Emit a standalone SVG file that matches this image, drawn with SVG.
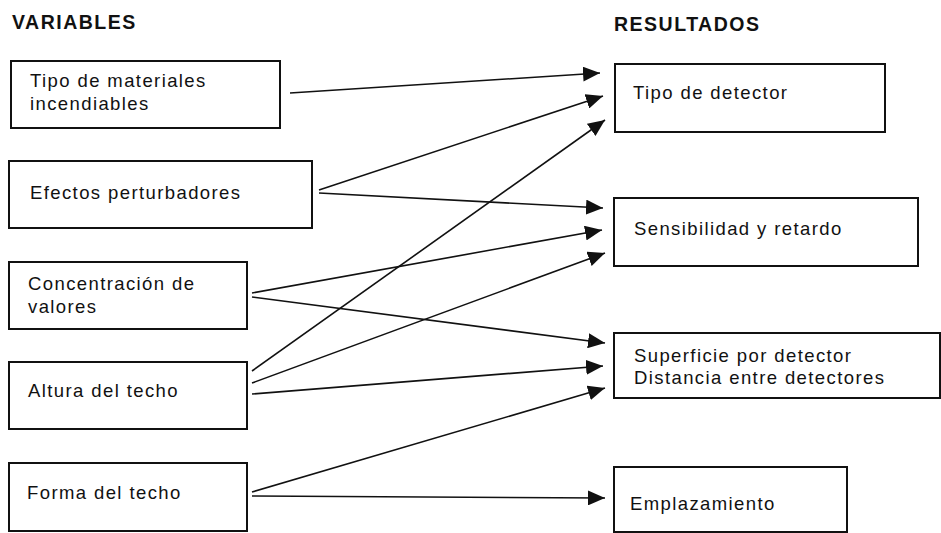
<svg xmlns="http://www.w3.org/2000/svg" width="941" height="533" viewBox="0 0 941 533">
<style>
.box{fill:#fff;stroke:#111;stroke-width:2}
.t{font-family:"Liberation Sans",Arial,sans-serif;font-size:18.5px;letter-spacing:1.4px;fill:#111}
.h{font-family:"Liberation Sans",Arial,sans-serif;font-size:19.5px;font-weight:bold;letter-spacing:1.5px;fill:#111}
.c line{stroke:#111;stroke-width:1.6;fill:none;marker-end:url(#ah)}
</style>
<defs>
<marker id="ah" markerUnits="userSpaceOnUse" markerWidth="18" markerHeight="15" refX="17" refY="7.5" orient="auto">
<path d="M0,0 L17,7.5 L0,15 z" fill="#111"/>
</marker>
</defs>
<rect width="941" height="533" fill="#fff"/>
<text class="h" x="12" y="29">VARIABLES</text>
<text class="h" x="614" y="31">RESULTADOS</text>

<g id="n-materiales">
<rect class="box" x="11" y="61" width="269" height="67"/>
<text class="t" x="30" y="87">Tipo de materiales</text>
<text class="t" x="30" y="110">incendiables</text>
</g>
<g id="n-efectos">
<rect class="box" x="9" y="161" width="303" height="67"/>
<text class="t" x="30" y="199">Efectos perturbadores</text>
</g>
<g id="n-concentracion">
<rect class="box" x="9" y="262" width="238" height="67"/>
<text class="t" x="28" y="290">Concentración de</text>
<text class="t" x="28" y="313">valores</text>
</g>
<g id="n-altura">
<rect class="box" x="9" y="362" width="238" height="67"/>
<text class="t" x="28" y="397">Altura del techo</text>
</g>
<g id="n-forma">
<rect class="box" x="9" y="463" width="238" height="68"/>
<text class="t" x="27" y="499">Forma del techo</text>
</g>

<g id="n-detector">
<rect class="box" x="615" y="64" width="270" height="68"/>
<text class="t" x="633" y="99">Tipo de detector</text>
</g>
<g id="n-sensibilidad">
<rect class="box" x="614" y="198" width="304" height="68"/>
<text class="t" x="634" y="235">Sensibilidad y retardo</text>
</g>
<g id="n-superficie">
<rect class="box" x="614" y="333" width="326" height="65"/>
<text class="t" x="634" y="362">Superficie por detector</text>
<text class="t" x="634" y="384">Distancia entre detectores</text>
</g>
<g id="n-emplazamiento">
<rect class="box" x="614" y="467" width="233" height="65"/>
<text class="t" x="630" y="510">Emplazamiento</text>
</g>

<g id="connectors" class="c">
<line x1="290" y1="93" x2="600" y2="73"/>
<line x1="319" y1="190" x2="603" y2="96"/>
<line x1="252" y1="371" x2="605" y2="120"/>
<line x1="319" y1="193" x2="603" y2="208"/>
<line x1="252" y1="293" x2="602" y2="230"/>
<line x1="252" y1="383" x2="605" y2="253"/>
<line x1="252" y1="297" x2="605" y2="343"/>
<line x1="252" y1="394" x2="603" y2="366"/>
<line x1="252" y1="492" x2="605" y2="388"/>
<line x1="252" y1="496" x2="605" y2="498"/>
</g>
</svg>
